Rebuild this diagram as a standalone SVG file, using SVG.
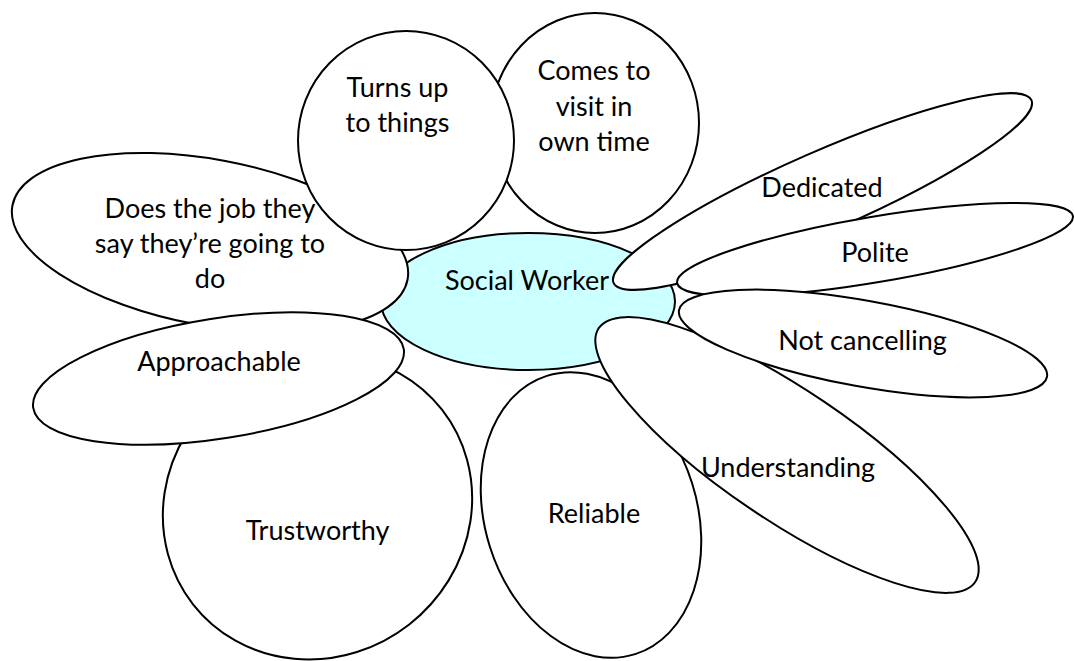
<svg xmlns="http://www.w3.org/2000/svg" width="1074" height="661" viewBox="0 0 1074 661">
<style>
.s{fill:#ffffff;stroke:#000000;stroke-width:2}
.c{fill:#ccffff;stroke:#000000;stroke-width:2}
text{font-family:Lato,"Liberation Sans",sans-serif;font-size:27px;fill:#000000;text-anchor:middle}
</style>
<rect width="1074" height="661" fill="#ffffff"/>
<g id="connectors"></g>
<g id="social-worker">
<ellipse class="c" cx="528" cy="301.5" rx="147" ry="68.5"/>
<text x="527" y="290">Social Worker</text>
</g>
<g id="trustworthy">
<ellipse class="s" cx="317.5" cy="507" rx="158" ry="149" transform="rotate(-38 317.5 507)"/>
<text x="317.5" y="540">Trustworthy</text>
</g>
<g id="does-the-job">
<ellipse class="s" cx="210" cy="242.5" rx="201" ry="83" transform="rotate(10.6 210 242.5)"/>
<text x="210" y="218">Does the job they</text>
<text x="210" y="253">say they’re going to</text>
<text x="210" y="288">do</text>
</g>
<g id="approachable">
<ellipse class="s" cx="218.5" cy="378.5" rx="187.6" ry="60" transform="rotate(-9 218.5 378.5)"/>
<text x="219" y="371">Approachable</text>
</g>
<g id="comes-to-visit">
<ellipse class="s" cx="595" cy="123" rx="104" ry="110"/>
<text x="594" y="80">Comes to</text>
<text x="594" y="115.5">visit in</text>
<text x="594" y="151">own time</text>
</g>
<g id="turns-up">
<ellipse class="s" cx="406" cy="140.5" rx="108" ry="109.5"/>
<text x="397.5" y="97">Turns up</text>
<text x="397.5" y="132">to things</text>
</g>
<g id="reliable">
<ellipse class="s" cx="591" cy="515" rx="106" ry="146" transform="rotate(-17.6 591 515)"/>
<text x="594" y="523">Reliable</text>
</g>
<g id="understanding">
<ellipse class="s" cx="787" cy="455" rx="227" ry="65" transform="rotate(34 787 455)"/>
<text x="788" y="477">Understanding</text>
</g>
<g id="dedicated">
<ellipse class="s" cx="822.5" cy="191.5" rx="228" ry="39.7" transform="rotate(-23.6 822.5 191.5)"/>
<text x="822" y="197">Dedicated</text>
</g>
<g id="polite">
<ellipse class="s" cx="875" cy="249.5" rx="200.7" ry="32.8" transform="rotate(-9.6 875 249.5)"/>
<text x="875" y="262">Polite</text>
</g>
<g id="not-cancelling">
<ellipse class="s" cx="863" cy="343.5" rx="187" ry="43" transform="rotate(10.25 863 343.5)"/>
<text x="862.5" y="350">Not cancelling</text>
</g>
</svg>
